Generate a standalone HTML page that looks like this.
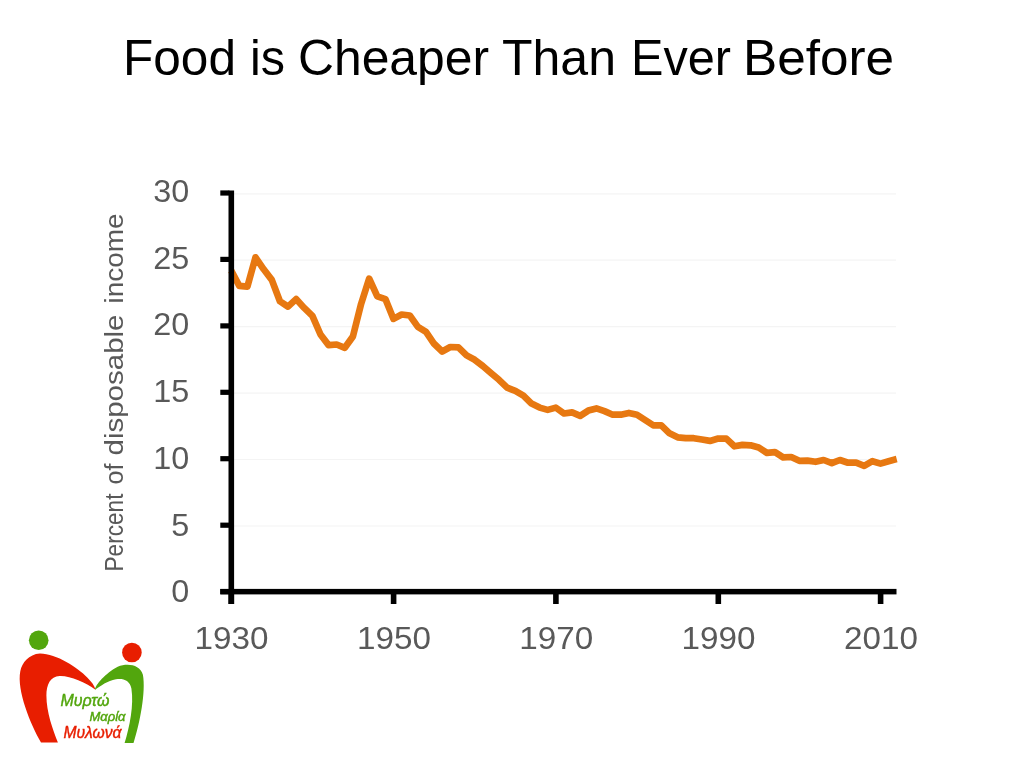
<!DOCTYPE html>
<html><head><meta charset="utf-8"><title>Food is Cheaper Than Ever Before</title>
<style>
html,body{margin:0;padding:0;background:#fff;}
body{width:1021px;height:760px;overflow:hidden;position:relative;font-family:"Liberation Sans",sans-serif;}
svg{position:absolute;left:0;top:0;}
.t{font-family:"Liberation Sans",sans-serif;font-size:50px;fill:#000;}
.ax{font-family:"Liberation Sans",sans-serif;font-size:31px;fill:#595959;}
.yl{font-family:"Liberation Sans",sans-serif;font-size:25px;fill:#595959;}
.lg{font-family:"Liberation Sans",sans-serif;font-style:italic;}
</style></head><body>
<svg width="1021" height="760" viewBox="0 0 1021 760">
<g class="t">
<text x="123" y="74.6" textLength="113" lengthAdjust="spacingAndGlyphs">Food</text>
<text x="250" y="74.6" textLength="35" lengthAdjust="spacingAndGlyphs">is</text>
<text x="298" y="74.6" textLength="191" lengthAdjust="spacingAndGlyphs">Cheaper</text>
<text x="502" y="74.6" textLength="114" lengthAdjust="spacingAndGlyphs">Than</text>
<text x="631" y="74.6" textLength="100" lengthAdjust="spacingAndGlyphs">Ever</text>
<text x="743" y="74.6" textLength="151" lengthAdjust="spacingAndGlyphs">Before</text>
</g>
<g stroke="#f4f4f4" stroke-width="1.2"><line x1="234" x2="896" y1="526.0" y2="526.0"/><line x1="234" x2="896" y1="459.5" y2="459.5"/><line x1="234" x2="896" y1="393.1" y2="393.1"/><line x1="234" x2="896" y1="326.7" y2="326.7"/><line x1="234" x2="896" y1="260.2" y2="260.2"/><line x1="234" x2="896" y1="193.8" y2="193.8"/></g>
<polyline fill="none" stroke="#E77811" stroke-width="6.7" stroke-linejoin="round" stroke-linecap="butt" points="231.2,270.6 239.3,285.8 247.4,286.6 255.5,257.3 263.7,269.3 271.8,279.9 279.9,301.2 288.0,306.6 296.1,299.1 304.2,307.9 312.4,315.9 320.5,334.5 328.6,345.1 336.7,344.5 344.8,347.8 352.9,336.5 361.1,303.9 369.2,278.6 377.3,296.4 385.4,299.1 393.5,318.9 401.6,314.5 409.8,315.5 417.9,326.9 426.0,331.8 434.1,343.8 442.2,351.5 450.3,347.0 458.4,347.4 466.6,355.4 474.7,359.8 482.8,366.0 490.9,373.0 499.0,379.8 507.1,387.7 515.3,390.9 523.4,395.7 531.5,403.6 539.6,407.6 547.7,409.9 555.8,407.6 564.0,413.5 572.1,412.4 580.2,415.9 588.3,410.6 596.4,408.4 604.5,411.1 612.7,414.7 620.8,414.7 628.9,412.9 637.0,414.7 645.1,420.0 653.2,425.3 661.3,425.3 669.5,433.3 677.6,437.3 685.7,438.2 693.8,438.2 701.9,439.5 710.0,440.9 718.2,438.6 726.3,438.6 734.4,446.3 742.5,444.9 750.6,445.3 758.7,447.5 766.9,452.9 775.0,452.1 783.1,457.4 791.2,457.0 799.3,460.8 807.4,460.6 815.6,461.8 823.7,460.0 831.8,463.2 839.9,460.0 848.0,462.7 856.1,462.7 864.2,465.9 872.4,461.2 880.5,463.6 888.6,461.2 896.7,459.1"/>
<g fill="#000">
<rect x="228.5" y="190.5" width="5.6" height="413.5"/>
<rect x="220.3" y="588.9" width="676.2" height="5.5"/>
<rect x="220.3" y="589.0" width="9" height="5.2"/><rect x="220.3" y="522.6" width="9" height="5.2"/><rect x="220.3" y="456.1" width="9" height="5.2"/><rect x="220.3" y="389.7" width="9" height="5.2"/><rect x="220.3" y="323.3" width="9" height="5.2"/><rect x="220.3" y="256.8" width="9" height="5.2"/><rect x="220.3" y="190.4" width="9" height="5.2"/><rect x="228.5" y="590" width="5.6" height="14"/><rect x="390.8" y="590" width="5.6" height="14"/><rect x="553.1" y="590" width="5.6" height="14"/><rect x="715.5" y="590" width="5.6" height="14"/><rect x="877.8" y="590" width="5.6" height="14"/>
</g>
<g class="ax"><text x="189.2" y="602.2" text-anchor="end" textLength="18" lengthAdjust="spacingAndGlyphs">0</text><text x="189.2" y="535.5" text-anchor="end" textLength="18" lengthAdjust="spacingAndGlyphs">5</text><text x="189.2" y="468.8" text-anchor="end" textLength="36" lengthAdjust="spacingAndGlyphs">10</text><text x="189.2" y="402.1" text-anchor="end" textLength="36" lengthAdjust="spacingAndGlyphs">15</text><text x="189.2" y="335.4" text-anchor="end" textLength="36" lengthAdjust="spacingAndGlyphs">20</text><text x="189.2" y="268.7" text-anchor="end" textLength="36" lengthAdjust="spacingAndGlyphs">25</text><text x="189.2" y="202.0" text-anchor="end" textLength="36" lengthAdjust="spacingAndGlyphs">30</text></g><g class="ax" style="font-size:31.8px"><text x="231.6" y="649" text-anchor="middle" textLength="74" lengthAdjust="spacingAndGlyphs">1930</text><text x="393.9" y="649" text-anchor="middle" textLength="74" lengthAdjust="spacingAndGlyphs">1950</text><text x="556.2" y="649" text-anchor="middle" textLength="74" lengthAdjust="spacingAndGlyphs">1970</text><text x="718.6" y="649" text-anchor="middle" textLength="74" lengthAdjust="spacingAndGlyphs">1990</text><text x="880.9" y="649" text-anchor="middle" textLength="74" lengthAdjust="spacingAndGlyphs">2010</text></g>
<g class="yl" transform="translate(122.6,571) rotate(-90)">
<text x="-0.5" y="0" textLength="78" lengthAdjust="spacingAndGlyphs">Percent</text>
<text x="86.5" y="0" textLength="21" lengthAdjust="spacingAndGlyphs">of</text>
<text x="115.5" y="0" textLength="141" lengthAdjust="spacingAndGlyphs">disposable</text>
<text x="267.5" y="0" textLength="90" lengthAdjust="spacingAndGlyphs">income</text>
</g>
<!-- logo -->
<circle cx="38.7" cy="640.2" r="9.8" fill="#52A60D"/>
<circle cx="131.9" cy="652.5" r="9.8" fill="#E81E00"/>
<path fill="#E81E00" d="M20.3 671.3 C22.0 662.8 28.8 654.2 39.9 653.5 C56.2 653.4 78.4 667.9 87.0 677.3 C91.2 681.6 94.7 685.8 95.5 689.8 C85.3 682.4 69.9 675.6 59.6 676.1 C50.2 676.4 46.4 685.0 46.4 695.3 C46.4 712.4 52.8 729.5 57.9 742.5 L41.0 742.5 C30.5 724.3 16.5 690.1 20.3 671.3 Z"/>
<path fill="#52A60D" d="M95.0 689.8 C95.0 685.0 105.8 673.0 117.7 666.7 C128.0 662.8 140.0 664.8 142.9 674.7 C146.0 691.8 140.0 722.6 133.5 743.1 L124.6 743.1 C129.7 726.0 134.0 705.5 131.4 688.4 C129.7 679.9 122.9 678.1 116.0 679.2 C107.5 680.7 100.6 685.8 95.0 689.8 Z"/>
<g class="lg" stroke-width="0.45">
<text x="60.5" y="705.8" font-size="17" fill="#52A60D" stroke="#52A60D" textLength="49" lengthAdjust="spacingAndGlyphs">Μυρτώ</text>
<text x="89.5" y="720.8" font-size="12.7" fill="#52A60D" stroke="#52A60D" textLength="36" lengthAdjust="spacingAndGlyphs">Μαρία</text>
<text x="63.5" y="737.6" font-size="17" fill="#E81E00" stroke="#E81E00" textLength="58" lengthAdjust="spacingAndGlyphs">Μυλωνά</text>
</g>
</svg>
</body></html>
